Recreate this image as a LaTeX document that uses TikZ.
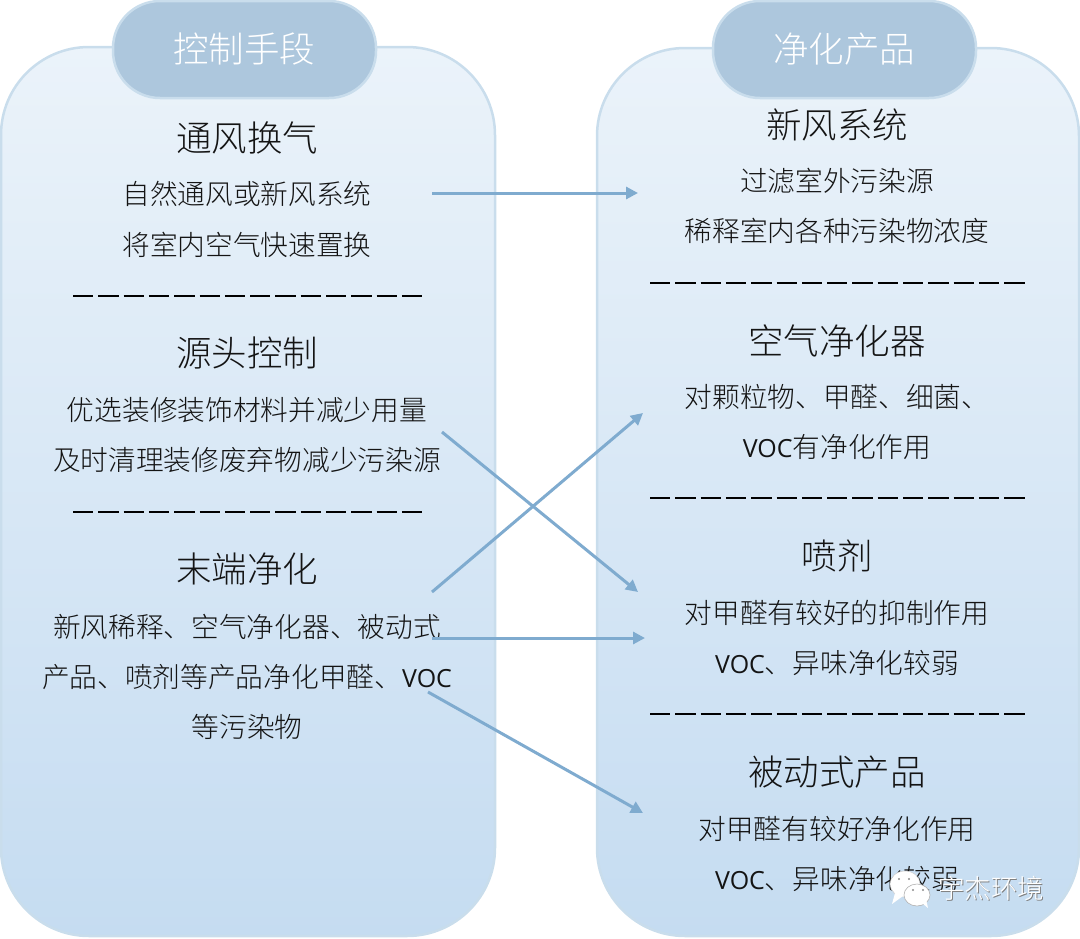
\documentclass[tikz,border=0pt]{standalone}
\usepackage{fontspec}
\usetikzlibrary{arrows.meta}
\setmainfont{Noto Sans CJK SC}[UprightFont=* Light]
\newfontfamily\vocfont{Open Sans}
\newcommand{\voc}{{\vocfont\fontsize{25}{30}\selectfont VOC}}
\newcommand{\marktxt}{宇杰环境}
\definecolor{paneltop}{HTML}{EBF3FA}
\definecolor{panelbot}{HTML}{C5DCF1}
\definecolor{panelrim}{HTML}{C9DDEC}
\definecolor{pillfill}{HTML}{ADC7DD}
\definecolor{arrowblue}{HTML}{7FABCF}
\tikzset{
  panel/.style={top color=paneltop,bottom color=panelbot,draw=panelrim,line width=2.5pt,rounded corners=88pt},
  pill/.style={fill=pillfill,draw=panelrim,line width=2.5pt,rounded corners=47pt},
  pilltxt/.style={text=white,font=\fontsize{35.5}{40}\selectfont},
  headtxt/.style={text=black!92,font=\fontsize{35.5}{40}\selectfont},
  subtxt/.style={text=black!92,font=\fontsize{27.7}{32}\selectfont},
  sepline/.style={black,line width=2pt,dash pattern=on 20.3pt off 5pt},
  linkarrow/.style={arrowblue,line width=3pt,-{Triangle[length=12pt,width=12pt]}},
}
\begin{document}
\begin{tikzpicture}[x=1pt,y=-1pt]
  \useasboundingbox (0,0) rectangle (1080,938);

  % panels
  \shade[panel] (1,47) rectangle (495,936);
  \shade[panel] (597,48) rectangle (1079,936);
  \draw[pill] (113,1) rectangle (376,98);
  \draw[pill] (713,1) rectangle (976,98);
  \node[pilltxt] (lefttitle) at (244,49) {控制手段};
  \node[pilltxt] (righttitle) at (844,49) {净化产品};

  % left column
  \foreach \y/\txt in {138/通风换气,353/源头控制,569/末端净化} {
    \node[headtxt] at (247,\y) {\txt};
  }
  \foreach \y/\txt in {194/自然通风或新风系统,245/将室内空气快速置换,410/优选装修装饰材料并减少用量,460/及时清理装修废弃物减少污染源,627/新风稀释、空气净化器、被动式,677/产品、喷剂等产品净化甲醛、\voc,727/等污染物} {
    \node[subtxt] at (247,\y) {\txt};
  }
  \foreach \y in {296,512} {
    \draw[sepline] (73,\y) -- (422,\y);
  }

  % right column
  \foreach \y/\txt in {125/新风系统,341/空气净化器,556/喷剂,772/被动式产品} {
    \node[headtxt] at (837,\y) {\txt};
  }
  \foreach \y/\txt in {181/过滤室外污染源,231/稀释室内各种污染物浓度,397/对颗粒物、甲醛、细菌、,447/\voc 有净化作用,613/对甲醛有较好的抑制作用,663/\voc 、异味净化较弱,829/对甲醛有较好净化作用,879/\voc 、异味净化较弱} {
    \node[subtxt] at (837,\y) {\txt};
  }
  \foreach \y in {283,498,714} {
    \draw[sepline] (650,\y) -- (1025,\y);
  }

  % links
  \coordinate (vent) at (432,193);
  \coordinate (source) at (442,432);
  \coordinate (endA) at (432,592);
  \coordinate (endB) at (432,638);
  \coordinate (endC) at (428,692);
  \coordinate (fresh) at (638,193);
  \coordinate (cleaner) at (643,413);
  \coordinate (sprayA) at (638,592);
  \coordinate (sprayB) at (645,638);
  \coordinate (passive) at (643,813);
  \draw[linkarrow] (vent) -- (fresh);
  \draw[linkarrow] (source) -- (sprayA);
  \draw[linkarrow] (endA) -- (cleaner);
  \draw[linkarrow] (endB) -- (sprayB);
  \draw[linkarrow] (endC) -- (passive);

  % watermark
  \fill[white,draw=black!20,line width=0.5pt] (905,884) ellipse (15 and 13);
  \fill[white] (895,893) -- (892,904) -- (903,896) -- cycle;
  \fill[white,draw=black!30,line width=0.6pt] (917,895) ellipse (13 and 11);
  \fill[white] (922,903) -- (928,908) -- (926,899) -- cycle;
  \foreach \x/\y in {899/879,909/879,913/890,923/890} {
    \fill[black!45] (\x,\y) circle (1.2);
  }
  \node[text=white,font=\fontsize{26.5}{30}\selectfont] (mark) at (991,889)
    {\rlap{\raisebox{-1.2pt}{\hspace{1.2pt}\color{black!50}\marktxt}}\marktxt};
\end{tikzpicture}
\end{document}
